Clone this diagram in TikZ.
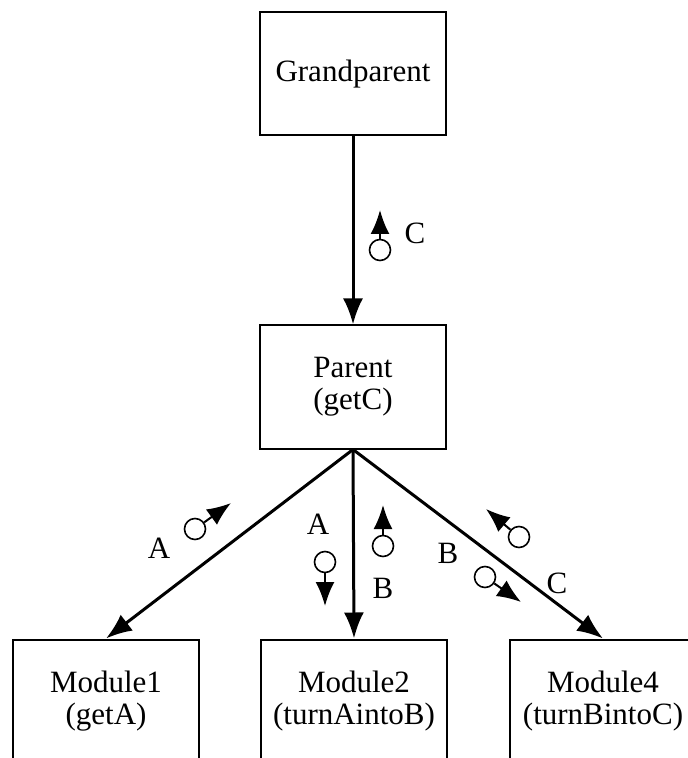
\documentclass[tikz,border=0pt]{standalone}
\usepackage{fontspec}
\setmainfont{Liberation Serif}
\usetikzlibrary{arrows.meta}

\begin{document}
\begin{tikzpicture}[x=0.5pt, y=-0.5pt,
                    >={Latex[length=13pt, width=10pt]},
                    font=\fontsize{15.5}{16}\selectfont,
                    module/.style={draw, line width=1pt, rectangle, align=center, minimum width=93pt, minimum height=61.5pt},
                    flow/.style={->, line width=1.5pt},
                    couple/.style={draw, circle, line width=0.8pt, inner sep=0pt, minimum size=10.5pt},
                    cflow/.style={-{Latex[length=12pt, width=9.5pt]}, line width=1pt},
                    lbl/.style={inner sep=0pt}]

\useasboundingbox (0,0) rectangle (688,758);
\clip (0,0) rectangle (688,758);

\node [module] (gp) at (353,74) {Grandparent};
\node [module] (par) at (353,387) {Parent\\(getC)};
\node [module] (m1) at (106,701) {Module1\\(getA)};
\node [module] (m2) at (354,701) {Module2\\(turnAintoB)};
\node [module] (m4) at (603,701) {Module4\\(turnBintoC)};

\draw [flow] (gp) -- (par);
\draw [flow] (par.south) -- (m1.north);
\draw [flow] (par.south) -- (m2.north);
\draw [flow] (par.south) -- (m4.north);

\node [couple] (cC) at (380,250) {};
\coordinate (tC) at (380,210);
\draw [cflow] (cC) -- (tC);
\node [lbl] (lC) at (415,233) {C};

\node [couple] (cA1) at (195,529) {};
\coordinate (tA1) at (231,503);
\draw [cflow] (cA1) -- (tA1);
\node [lbl] (lA1) at (159,548) {A};

\node [couple] (cA2) at (325,562) {};
\coordinate (tA2) at (325,606);
\draw [cflow] (cA2) -- (tA2);
\node [lbl] (lA2) at (318,524) {A};

\node [couple] (cB2) at (383,546) {};
\coordinate (tB2) at (383,505);
\draw [cflow] (cB2) -- (tB2);
\node [lbl] (lB2) at (383,588) {B};

\node [couple] (cC4) at (519,537) {};
\coordinate (tC4) at (486,509);
\draw [cflow] (cC4) -- (tC4);
\node [lbl] (lC4) at (557,583) {C};

\node [couple] (cB4) at (485,577) {};
\coordinate (tB4) at (521,602);
\draw [cflow] (cB4) -- (tB4);
\node [lbl] (lB4) at (448,553) {B};

\end{tikzpicture}
\end{document}
